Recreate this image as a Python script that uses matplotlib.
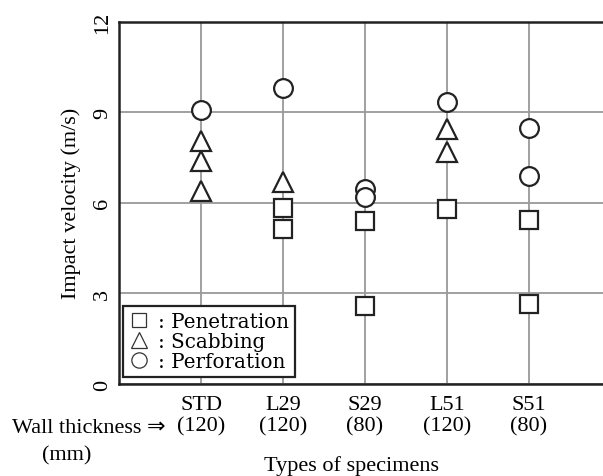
import matplotlib
matplotlib.use("Agg")
import matplotlib.pyplot as plt
from matplotlib.lines import Line2D

specimens = ["STD", "L29", "S29", "L51", "S51"]
thickness = ["(120)", "(120)", "(80)", "(120)", "(80)"]

# Penetration (squares)
pen_cat = ["L29", "L29", "S29", "S29", "L51", "S51", "S51"]
pen_val = [5.81, 5.13, 5.40, 2.59, 5.79, 5.44, 2.65]
# Scabbing (triangles)
scab_cat = ["STD", "STD", "STD", "L29", "L51", "L51"]
scab_val = [8.04, 7.38, 6.38, 6.69, 8.44, 7.68]
# Perforation (circles)
perf_cat = ["STD", "L29", "S29", "S29", "L51", "S51", "S51"]
perf_val = [9.06, 9.79, 6.45, 6.18, 9.34, 8.46, 6.89]

yticks = [0, 3, 6, 9, 12]

plt.rcParams['font.family'] = ['Liberation Serif', 'DejaVu Serif', 'DejaVu Sans']

fig = plt.figure(figsize=(6.03, 4.77), dpi=100)
ax = fig.add_axes([119/603, 92/477, 492/603, 362.5/477])

pos = {c: i + 1 for i, c in enumerate(specimens)}
ax.set_xlim(0, 6)
ax.set_ylim(0, 12)
ax.set_xticks([pos[c] for c in specimens])
ax.set_xticklabels([f"{s}\n{t}" for s, t in zip(specimens, thickness)], fontsize=16, linespacing=1.15)
ax.set_yticks(yticks)
ax.set_yticklabels([str(v) for v in yticks], fontsize=16, rotation=90, va='center')
ax.tick_params(length=0)
ax.tick_params(axis='x', pad=8)
ax.tick_params(axis='y', pad=5)
ax.grid(True, color='#999999', linewidth=1.3)
ax.set_axisbelow(True)
for s in ax.spines.values():
    s.set_linewidth(1.8)
    s.set_color('#222222')

mk = dict(linestyle='none', markerfacecolor='white', markeredgecolor='#222222',
          markeredgewidth=1.6, zorder=3)
ax.plot([pos[c] for c in pen_cat], pen_val, marker='s', markersize=12.5, **mk)
ax.plot([pos[c] for c in scab_cat], scab_val, marker='^', markersize=14, **mk)
ax.plot([pos[c] for c in perf_cat], perf_val, marker='o', markersize=13.5, **mk)

ax.set_ylabel("Impact velocity (m/s)", fontsize=16, labelpad=9)
fig.text(352/603, 1 - 466/477, "Types of specimens", ha='center', va='center', fontsize=16)
fig.text(12/603, 1 - 429/477, "Wall thickness \u21d2", ha='left', va='center', fontsize=16,
         family=['Liberation Serif', 'DejaVu Sans'])
fig.text(67/603, 1 - 456/477, "(mm)", ha='center', va='center', fontsize=16)

lmk = dict(linestyle='none', markerfacecolor='white', markeredgecolor='#333333', markeredgewidth=0.9)
handles = [Line2D([], [], marker='s', markersize=10, **lmk),
           Line2D([], [], marker='^', markersize=11, **lmk),
           Line2D([], [], marker='o', markersize=11, **lmk)]
leg = ax.legend(handles, [": Penetration", ": Scabbing", ": Perforation"],
                loc='lower left', bbox_to_anchor=(4/492, 7/362.5), fancybox=False,
                framealpha=1, edgecolor='#222222', handlelength=1.0, handletextpad=0.45,
                borderpad=0.3, labelspacing=0.05, borderaxespad=0,
                prop={'family': 'DejaVu Serif', 'size': 14.3})
leg.get_frame().set_linewidth(1.6)

fig.savefig("out.png", dpi=100)
